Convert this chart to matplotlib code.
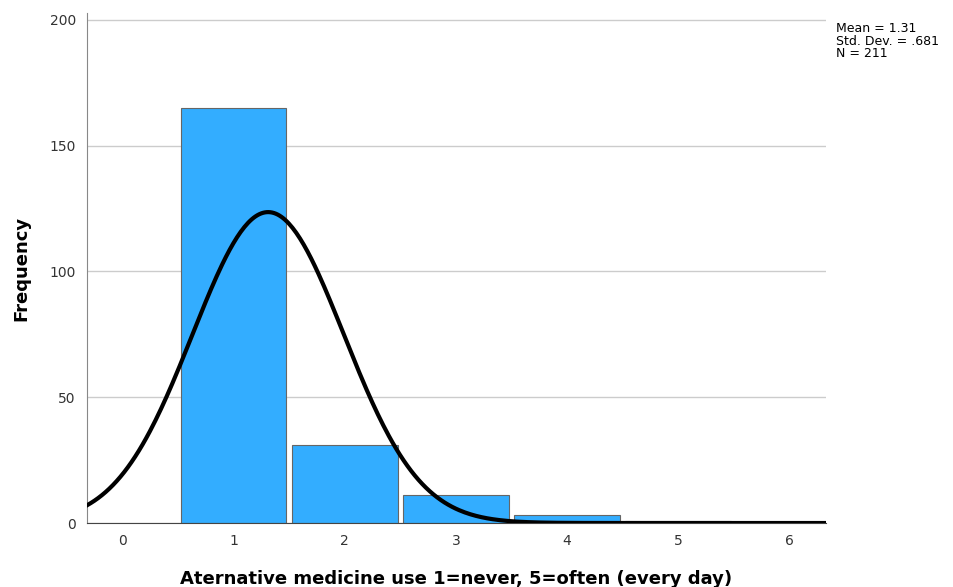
import numpy as np
import matplotlib.pyplot as plt

categories = [1, 2, 3, 4, 5]
counts = [165, 31, 11, 3, 1]
mean_val = 1.31
sd_val = 0.681
n_total = 211

fig = plt.figure(figsize=(9.54, 5.87), dpi=100)
ax = fig.add_axes([0.0912, 0.109, 0.7746, 0.869])

ax.bar(categories, counts, width=0.95, color="#33adff", edgecolor="#666666",
       linewidth=0.8, zorder=2)

xs = np.linspace(-0.32, 6.33, 400)
curve = n_total * np.exp(-0.5 * ((xs - mean_val) / sd_val) ** 2) / (sd_val * np.sqrt(2 * np.pi))
ax.plot(xs, curve, color="black", linewidth=3, zorder=3)

ax.set_xlim(-0.32, 6.33)
ax.set_ylim(0, 202.8)
ax.set_xticks(range(0, 7))
ax.set_yticks([0, 50, 100, 150, 200])
ax.yaxis.grid(True, color="#cccccc", linewidth=1, zorder=0)
ax.set_axisbelow(True)
ax.tick_params(length=0, labelsize=10, colors="#333333", pad=8)

for s in ["top", "right"]:
    ax.spines[s].set_visible(False)
ax.spines["left"].set_color("#888888")
ax.spines["bottom"].set_color("#444444")

ax.set_xlabel("Aternative medicine use 1=never, 5=often (every day)",
              fontsize=13, fontweight="bold", labelpad=16)
ax.set_ylabel("Frequency", fontsize=13, fontweight="bold", labelpad=14)

fig.text(0.876, 0.962, "Mean = 1.31\nStd. Dev. = .681\nN = 211",
         fontsize=9, va="top", ha="left", linespacing=0.95)

fig.savefig("out.png", dpi=100)
